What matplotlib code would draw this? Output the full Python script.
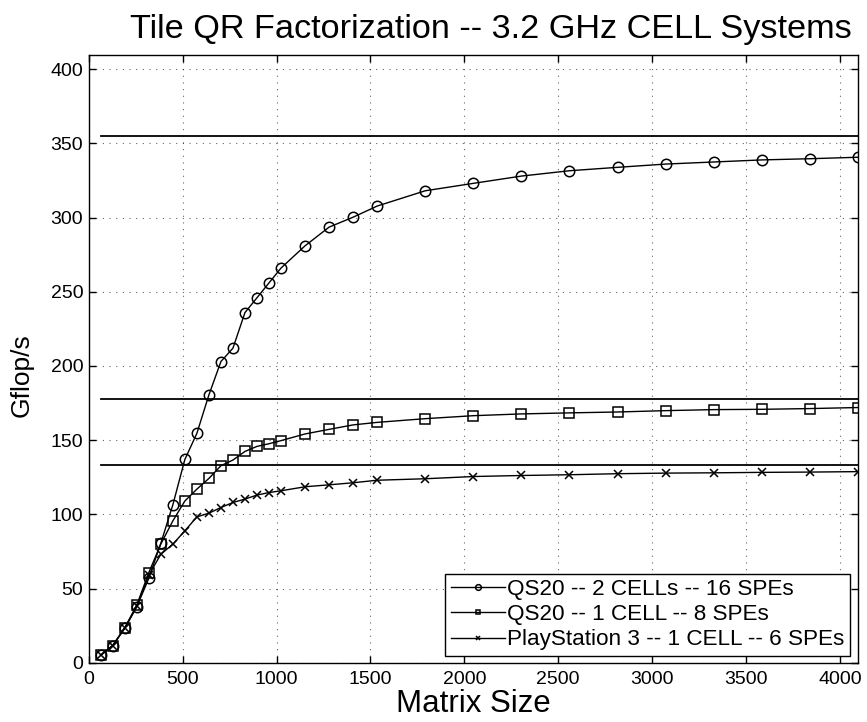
import matplotlib
matplotlib.use("Agg")
import matplotlib.pyplot as plt

plt.rcParams['font.family'] = ['Liberation Sans', 'DejaVu Sans']

matrix_size = [64, 128, 192, 256, 320, 384, 448, 512, 576, 640, 704, 768, 832, 896, 960,
               1024, 1152, 1280, 1408, 1536, 1792, 2048, 2304, 2560, 2816, 3072, 3328,
               3584, 3840, 4096]
qs20_2cells = [5, 11.6, 23.1, 37.7, 56.9, 80.5, 106.4, 137, 154.6, 180.5, 203, 212, 236,
               246, 256, 266, 281, 293.6, 300.3, 307.8, 318.1, 323.1, 328, 331.6, 333.9,
               336.1, 337.5, 338.9, 339.7, 340.7]
qs20_1cell = [5, 11.6, 23.5, 38.9, 60.7, 80, 95.6, 109, 117, 124.2, 132.8, 136.6, 142.4,
              145.8, 147.6, 149.7, 154.2, 157.3, 160.3, 162, 164.5, 166.5, 167.7, 168.4,
              169, 169.9, 170.6, 170.8, 171.3, 172]
ps3_1cell = [5, 11.6, 23.5, 38, 59, 73.1, 79.9, 88.9, 98.3, 100.8, 104.6, 108, 110.3, 113,
             114.7, 115.9, 118.6, 119.9, 121.3, 123, 124, 125.5, 126.2, 126.7, 127.4,
             127.8, 128, 128.3, 128.5, 128.8]
peak_levels = [355.2, 177.6, 133.2]
labels = ['QS20 -- 2 CELLs -- 16 SPEs', 'QS20 -- 1 CELL -- 8 SPEs',
          'PlayStation 3 -- 1 CELL -- 6 SPEs']
xticks = [0, 500, 1000, 1500, 2000, 2500, 3000, 3500, 4000]
yticks = [0, 50, 100, 150, 200, 250, 300, 350, 400]

fig = plt.figure(figsize=(8.67, 7.22), dpi=100)
ax = fig.add_axes([0.1023, 0.0821, 0.8873, 0.8417])

for lvl in peak_levels:
    ax.plot([matrix_size[0], matrix_size[-1]], [lvl, lvl], color='black', lw=1.3)

ax.plot(matrix_size, qs20_2cells, '-o', color='black', lw=1.0, ms=7.5,
        mfc='none', mew=1.1, label=labels[0])
ax.plot(matrix_size, qs20_1cell, '-s', color='black', lw=1.0, ms=6.5,
        mfc='none', mew=1.1, label=labels[1])
ax.plot(matrix_size, ps3_1cell, '-x', color='black', lw=1.0, ms=5.5,
        mew=1.1, label=labels[2])

ax.set_xlim(0, 4096)
ax.set_ylim(0, 409.6)
ax.set_xticks(xticks)
ax.set_yticks(yticks)
ax.tick_params(direction='in', length=5, width=1, top=True, right=True,
               labelsize=14, colors='black')
ax.tick_params(axis='y', pad=4)
ax.tick_params(axis='x', pad=6)
ax.grid(True, linestyle=(0, (1, 5)), color='black', lw=0.8, alpha=0.6)
for s in ax.spines.values():
    s.set_linewidth(1.0)

ax.set_title('Tile QR Factorization -- 3.2 GHz CELL Systems', fontsize=24.7, pad=12,
             x=0.523)
ax.set_xlabel('Matrix Size', fontsize=22.5, labelpad=0.5)
ax.set_ylabel('Gflop/s', fontsize=19)
ax.yaxis.set_label_coords(-0.071, 0.473)

leg = ax.legend(loc='lower right', bbox_to_anchor=(0.9896, 0.011), borderaxespad=0,
                fontsize=16.2, markerscale=0.55, handlelength=2.4, handletextpad=0.1,
                labelspacing=0.18, borderpad=0.25, fancybox=False, framealpha=1,
                edgecolor='black')
leg.get_frame().set_linewidth(1.0)

fig.savefig('out.png', dpi=100)
